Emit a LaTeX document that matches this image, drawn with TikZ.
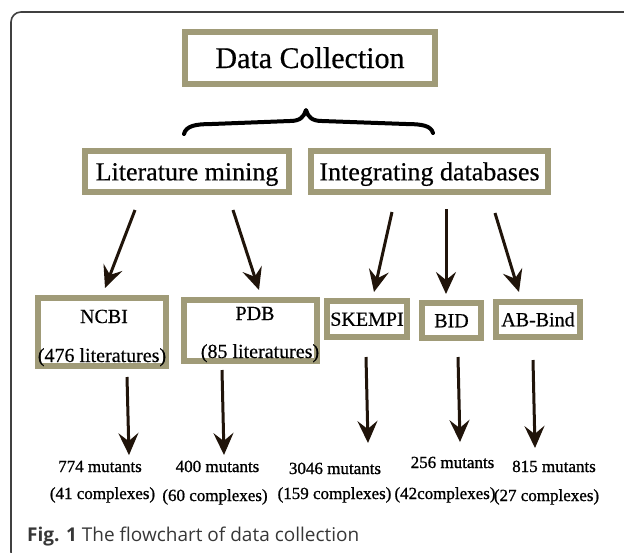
\documentclass[tikz,border=0pt]{standalone}
\usepackage{fontspec}
\setmainfont{Liberation Serif}
\newfontfamily\diagfont[FakeBold=0.5]{Liberation Serif}
\newfontfamily\resfont[FakeBold=1.0]{Liberation Serif}
\newfontfamily\capfont{Open Sans}
\usetikzlibrary{arrows.meta,calc}
\definecolor{boxol}{RGB}{160,155,120}
\definecolor{arrc}{RGB}{32,20,10}
\definecolor{capgray}{RGB}{55,55,55}
\begin{document}
\begin{tikzpicture}[x=1pt,y=-1pt,
  boxnode/.style={draw=boxol,line width=6pt,fill=white,inner sep=0pt,rectangle},
  fbig/.style={font=\diagfont\fontsize{30}{32}\selectfont,text height=20pt,text depth=0pt},
  fmid/.style={font=\diagfont\fontsize{26}{28}\selectfont,text height=17.7pt,text depth=0pt},
  fsmall/.style={font=\diagfont\fontsize{20}{22}\selectfont,text height=13.5pt,text depth=0pt},
  lbl/.style={inner sep=0pt,anchor=base,font=\diagfont\fontsize{20}{22}\selectfont},
  res/.style={inner sep=0pt,anchor=base,font=\resfont\fontsize{17}{19}\selectfont},
  arr/.style={draw=arrc,line width=3pt,-{Stealth[length=22pt,width=20pt,inset=8pt]}},
  bracestyle/.style={draw=black,line width=4pt,line cap=round,line join=round},
  framestyle/.style={draw=black!75,line width=1.6pt,rounded corners=10pt},
]
\useasboundingbox (0,0) rectangle (624,552);
\clip (0,0) rectangle (624,552);

% outer frame
\draw[framestyle] (11,12) rectangle (700,562);

% brace
\draw[bracestyle] (184,134) .. controls (186,126) and (195,124) .. (212,124)
  -- (290,121) .. controls (300,121) and (304,117) .. (306,110)
  .. controls (308,117) and (312,121) .. (322,121)
  -- (406,124) .. controls (423,124) and (431,126) .. (433,133);

% boxes
\node[boxnode,fbig,minimum width=250pt,minimum height=52pt] (dc) at (310,58) {Data Collection};
\node[boxnode,fmid,minimum width=204pt,minimum height=41pt] (lit) at (187,171.5) {Literature mining};
\node[boxnode,fmid,minimum width=237pt,minimum height=41pt] (integ) at (429.5,171.5) {Integrating databases};

\node[boxnode,minimum width=128pt,minimum height=68pt] (ncbi) at (102,332) {};
\node[boxnode,minimum width=133pt,minimum height=61pt] (pdb) at (250.5,330.5) {};
\node[boxnode,fsmall,minimum width=80pt,minimum height=36pt] (skempi) at (367,319) {SKEMPI};
\node[boxnode,fsmall,minimum width=59pt,minimum height=35pt] (bid) at (451.5,320.5) {BID};
\node[boxnode,fsmall,minimum width=84pt,minimum height=35pt] (abbind) at (538,319.5) {AB-Bind};

\node[lbl] (ncbit) at (104,323) {NCBI};
\node[lbl] (ncbil) at (102,362) {(476 literatures)};
\node[lbl] (pdbt) at (255,320) {PDB};
\node[lbl] (pdbl) at (260,358) {(85 literatures)};

% results
\node[res] (m1) at (100,472) {774 mutants};
\node[res] (c1) at (102.5,499) {(41 complexes)};
\node[res] (m2) at (217.5,472) {400 mutants};
\node[res] (c2) at (215,501) {(60 complexes)};
\node[res] (m3) at (335,474) {3046 mutants};
\node[res] (c3) at (334.5,499) {(159 complexes)};
\node[res] (m4) at (452.5,468) {256 mutants};
\node[res] (c4) at (445,499) {(42complexes)};
\node[res] (m5) at (554,472) {815 mutants};
\node[res] (c5) at (546.5,501) {(27 complexes)};

% arrow starts
\coordinate (a1) at (135,210);
\coordinate (a2) at (233,210);
\coordinate (a3) at (392,212);
\coordinate (a4) at (446,209);
\coordinate (a5) at (495,213);
\coordinate (b1) at (127,377);
\coordinate (b2) at (222,370);
\coordinate (b3) at (366,357);
\coordinate (b4) at (458,357);
\coordinate (b5) at (533,360);

\draw[arr] (a1) -- ([xshift=3pt,yshift=7pt]ncbi.north);
\draw[arr] (a2) -- ([xshift=8.5pt,yshift=7pt]pdb.north);
\draw[arr] (a3) -- ([xshift=7pt,yshift=6pt]skempi.north);
\draw[arr] (a4) -- ([xshift=-5.5pt,yshift=6pt]bid.north);
\draw[arr] (a5) -- ([xshift=-19pt,yshift=7pt]abbind.north);

\draw[arr] (b1) -- ([xshift=29pt,yshift=5.5pt]m1.north);
\draw[arr] (b2) -- ([xshift=6.5pt,yshift=5.5pt]m2.north);
\draw[arr] (b3) -- ([xshift=33pt,yshift=19.5pt]m3.north);
\draw[arr] (b4) -- ([xshift=7.5pt,yshift=14.5pt]m4.north);
\draw[arr] (b5) -- ([xshift=-19pt,yshift=12.5pt]m5.north);

% caption
\node[anchor=base west,inner sep=0pt,text=capgray,font=\capfont\fontsize{19}{21}\selectfont] (cap) at (27,541)
  {\textbf{Fig. 1} The flowchart of data collection};
\end{tikzpicture}
\end{document}
